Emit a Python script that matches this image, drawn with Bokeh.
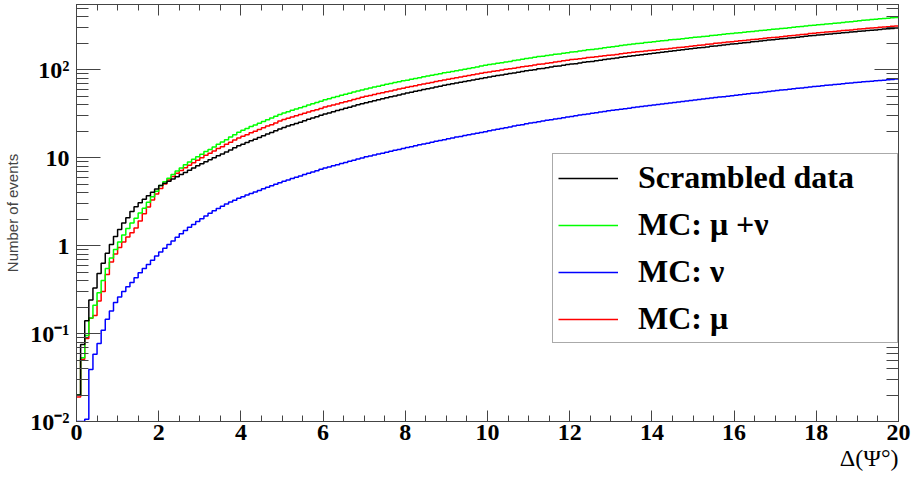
from bokeh.plotting import figure
from bokeh.models import (Range1d, FixedTicker, SingleIntervalTicker, LinearAxis, LogAxis,
                          CustomJSTickFormatter, Legend, LegendItem, Title)
from bokeh.embed import file_html
from bokeh.resources import INLINE

# ---------------- data ----------------
bin_width = 0.1
n_bins = 200
bin_edges = [round(i * bin_width, 1) for i in range(n_bins + 1)]

scrambled_data = [
    0.02, 0.075, 0.14, 0.24, 0.33, 0.48, 0.63, 0.82, 1.03, 1.27, 1.52, 1.81, 2.07, 2.44, 2.76, 3.06, 3.37, 3.68, 4.05, 4.4,
    4.82, 5.10, 5.40, 5.72, 6.06, 6.42, 6.79, 7.19, 7.62, 8.07,
    8.52, 8.97, 9.45, 9.95, 10.5, 11.0, 11.6, 12.2, 12.9, 13.6,
    14.2, 14.8, 15.5, 16.2, 16.9, 17.7, 18.5, 19.3, 20.2, 21.1,
    22.0, 22.8, 23.6, 24.4, 25.3, 26.2, 27.2, 28.1, 29.1, 30.2,
    31.3, 32.2, 33.2, 34.2, 35.3, 36.3, 37.4, 38.6, 39.8, 41.0,
    42.1, 43.2, 44.3, 45.5, 46.6, 47.8, 49.1, 50.3, 51.6, 52.9,
    54.2, 55.4, 56.7, 58.0, 59.3, 60.6, 62.0, 63.4, 64.8, 66.3,
    67.7, 69.0, 70.4, 71.8, 73.3, 74.8, 76.3, 77.8, 79.4, 81.0,
    82.5, 84.0, 85.5, 87.0, 88.6, 90.2, 91.8, 93.4, 95.1, 96.8,
    98.5, 100, 102, 103, 105, 107, 109, 110, 112, 114,
    116, 117, 119, 121, 123, 124, 126, 128, 130, 132,
    134, 136, 138, 140, 142, 144, 146, 148, 150, 152,
    154, 156, 158, 160, 162, 164, 166, 168, 170, 173,
    175, 177, 179, 181, 184, 186, 188, 191, 193, 195,
    197, 200, 202, 204, 207, 209, 212, 214, 217, 219,
    221, 224, 226, 229, 231, 234, 236, 239, 242, 244,
    247, 249, 252, 254, 257, 259, 262, 264, 267, 270,
    273, 275, 278, 281, 283, 286, 289, 291, 294, 297,
]

mc_mu_nu = [
    0.02, 0.053, 0.095, 0.15, 0.21, 0.29, 0.40, 0.55, 0.72, 0.9, 1.1, 1.32, 1.56, 1.8, 2.05, 2.35, 2.65, 3.1, 3.6, 4.15,
    4.82, 5.30, 5.83, 6.41, 7.03, 7.64, 8.28, 8.92, 9.60, 10.25,
    10.9, 11.7, 12.4, 13.2, 14.2, 15.0, 16.0, 17.1, 18.2, 19.4,
    20.4, 21.4, 22.5, 23.5, 24.6, 25.8, 27.0, 28.2, 29.5, 30.8,
    32.1, 33.3, 34.5, 35.6, 36.9, 38.2, 39.6, 40.9, 42.3, 43.8,
    45.4, 46.7, 48.1, 49.5, 51.1, 52.5, 54.0, 55.6, 57.2, 58.8,
    60.2, 61.7, 63.3, 64.9, 66.4, 68.0, 69.7, 71.3, 73.0, 74.6,
    75.9, 77.5, 79.3, 81.1, 82.8, 84.5, 86.3, 88.2, 90.0, 92.0,
    93.4, 95.2, 97.2, 99.1, 101, 103, 105, 107, 110, 112,
    114, 116, 118, 120, 122, 124, 127, 129, 131, 134,
    136, 138, 141, 142, 145, 147, 150, 151, 154, 156,
    159, 160, 163, 165, 168, 169, 172, 174, 177, 180,
    182, 185, 188, 190, 193, 195, 198, 200, 203, 205,
    208, 210, 213, 215, 218, 220, 222, 225, 227, 230,
    233, 235, 238, 240, 244, 246, 249, 252, 255, 258,
    260, 263, 266, 269, 272, 275, 278, 281, 284, 287,
    290, 293, 296, 300, 303, 307, 309, 313, 317, 320,
    324, 326, 330, 333, 337, 340, 344, 347, 351, 355,
    360, 363, 367, 371, 374, 378, 381, 384, 388, 392,
]

mc_nu = [
    0.01, 0.01, 0.0106, 0.039, 0.058, 0.077, 0.109, 0.145, 0.18, 0.225, 0.26, 0.30, 0.34, 0.38, 0.43, 0.49, 0.55, 0.61, 0.68, 0.76,
    0.843, 0.933, 1.03, 1.13, 1.24, 1.36, 1.48, 1.61, 1.74, 1.88,
    2.02, 2.17, 2.33, 2.48, 2.64, 2.80, 2.96, 3.12, 3.28, 3.44,
    3.60, 3.75, 3.90, 4.06, 4.23, 4.41, 4.59, 4.78, 4.98, 5.19,
    5.39, 5.58, 5.78, 5.98, 6.19, 6.41, 6.64, 6.87, 7.11, 7.37,
    7.61, 7.84, 8.07, 8.31, 8.56, 8.81, 9.07, 9.34, 9.62, 9.90,
    10.2, 10.4, 10.7, 11.0, 11.2, 11.5, 11.8, 12.1, 12.4, 12.7,
    13.0, 13.3, 13.6, 14.0, 14.3, 14.6, 14.9, 15.3, 15.6, 16.0,
    16.4, 16.7, 17.1, 17.4, 17.8, 18.2, 18.5, 18.9, 19.3, 19.7,
    20.2, 20.6, 21.0, 21.4, 21.9, 22.3, 22.8, 23.3, 23.7, 24.2,
    24.7, 25.1, 25.6, 26.0, 26.5, 26.9, 27.4, 27.9, 28.4, 28.9,
    29.4, 29.9, 30.4, 30.9, 31.4, 31.9, 32.4, 32.9, 33.5, 34.0,
    34.5, 35.0, 35.5, 36.0, 36.5, 37.0, 37.5, 38.1, 38.6, 39.1,
    39.7, 40.2, 40.7, 41.3, 41.8, 42.4, 42.9, 43.5, 44.1, 44.6,
    45.2, 45.7, 46.3, 46.9, 47.5, 48.1, 48.7, 49.3, 49.9, 50.5,
    51.2, 51.8, 52.5, 53.1, 53.8, 54.4, 55.1, 55.8, 56.5, 57.2,
    57.8, 58.5, 59.2, 59.9, 60.6, 61.3, 62.0, 62.8, 63.5, 64.2,
    64.9, 65.6, 66.3, 67.0, 67.7, 68.4, 69.1, 69.8, 70.5, 71.3,
    71.9, 72.6, 73.2, 73.9, 74.6, 75.3, 75.9, 76.6, 77.3, 78.0,
]

mc_mu = [
    0.019, 0.051, 0.088, 0.149, 0.16, 0.235, 0.30, 0.47, 0.65, 0.8, 0.95, 1.1, 1.25, 1.4, 1.58, 1.9, 2.3, 2.75, 3.3, 3.85,
    4.45, 5.0, 5.55, 6.1, 6.65, 7.15, 7.65, 8.2, 8.75, 9.3,
    9.97, 10.6, 11.2, 11.9, 12.7, 13.3, 14.2, 14.9, 15.9, 16.7,
    17.5, 18.2, 19.1, 19.9, 20.8, 21.8, 22.8, 23.7, 24.8, 26.0,
    27.1, 28.0, 28.9, 29.9, 30.9, 32.0, 33.0, 34.0, 35.1, 36.2,
    37.6, 38.6, 39.7, 40.8, 42.1, 43.2, 44.4, 45.8, 47.1, 48.5,
    49.7, 50.9, 52.1, 53.4, 54.6, 55.9, 57.3, 58.6, 60.1, 61.5,
    62.9, 64.2, 65.7, 67.2, 68.6, 70.0, 71.6, 73.2, 74.7, 76.4,
    77.9, 79.3, 80.9, 82.5, 84.2, 85.9, 87.5, 89.2, 91.0, 92.8,
    94.0, 95.7, 97.4, 99.1, 101, 102, 104, 106, 108, 109,
    111, 113, 115, 116, 118, 120, 122, 124, 126, 128,
    130, 131, 133, 135, 137, 138, 140, 142, 144, 146,
    147, 149, 152, 154, 156, 158, 160, 161, 163, 165,
    166, 168, 170, 172, 174, 176, 178, 180, 182, 185,
    187, 189, 191, 194, 196, 199, 201, 204, 206, 208,
    210, 213, 215, 217, 220, 222, 225, 227, 230, 232,
    234, 237, 240, 243, 245, 248, 250, 253, 257, 259,
    262, 264, 267, 269, 272, 275, 278, 280, 283, 286,
    289, 292, 295, 298, 300, 303, 306, 308, 311, 313,
]

series_labels = ["Scrambled data", "MC: \u03bc +\u03bd", "MC: \u03bd", "MC: \u03bc"]
series_colors = ["#000000", "#00ff00", "#0000ff", "#ff0000"]

y_tick_values = [0.01, 0.1, 1, 10, 100]
y_tick_labels = ["10\u207b\u00b2", "10\u207b\u00b9", "1", "10", "10\u00b2"]
y_minor_values = [m * d for d in [0.01, 0.1, 1, 10, 100] for m in range(2, 10)]
x_label = "\u0394(\u03a8\u00b0)"
y_label = "Number of events"

# ---------------- figure ----------------
p = figure(width=912, height=477, y_axis_type="log",
           x_range=Range1d(0, 20), y_range=Range1d(0.01, 550),
           output_backend="svg", toolbar_location=None,
           min_border_left=76, min_border_right=14, min_border_top=4, min_border_bottom=56)
p.xgrid.visible = False
p.ygrid.visible = False
p.outline_line_color = "#444444"
p.outline_line_width = 1
p.background_fill_color = "white"
p.border_fill_color = "white"

AX_COL = "#444444"
FONT = "Liberation Serif"
blank_fmt = CustomJSTickFormatter(code='return "";')

def style_x(ax, labels=True):
    ax.ticker = SingleIntervalTicker(interval=2, num_minor_ticks=4)
    ax.major_tick_in = 11
    ax.major_tick_out = 0
    ax.minor_tick_in = 6
    ax.minor_tick_out = 0
    ax.axis_line_color = AX_COL
    ax.major_tick_line_color = AX_COL
    ax.minor_tick_line_color = AX_COL
    if labels:
        ax.major_label_text_font = FONT
        ax.major_label_text_font_style = "bold"
        ax.major_label_text_font_size = "24px"
        ax.major_label_text_color = "black"
        ax.major_label_standoff = 3
    else:
        ax.formatter = blank_fmt
        ax.major_label_standoff = 0

def style_y(ax, labels=True):
    ax.ticker = FixedTicker(ticks=y_tick_values, minor_ticks=y_minor_values)
    ax.major_tick_in = 24
    ax.major_tick_out = 0
    ax.minor_tick_in = 12
    ax.minor_tick_out = 0
    ax.axis_line_color = AX_COL
    ax.major_tick_line_color = AX_COL
    ax.minor_tick_line_color = AX_COL
    if labels:
        ax.formatter = CustomJSTickFormatter(args=dict(vals=y_tick_values, labs=y_tick_labels), code="""
            const lt = Math.log10(tick);
            for (let i = 0; i < vals.length; i++) {
                if (Math.abs(Math.log10(vals[i]) - lt) < 1e-6) return labs[i];
            }
            return "";
        """)
        ax.major_label_text_font = FONT
        ax.major_label_text_font_style = "bold"
        ax.major_label_text_font_size = "24px"
        ax.major_label_text_color = "black"
        ax.major_label_standoff = 7
    else:
        ax.formatter = blank_fmt
        ax.major_label_standoff = 0

style_x(p.xaxis[0])
style_y(p.yaxis[0])
p.yaxis[0].axis_label = y_label
p.yaxis[0].axis_label_text_font = "Liberation Sans"
p.yaxis[0].axis_label_text_font_style = "normal"
p.yaxis[0].axis_label_text_font_size = "15px"
p.yaxis[0].axis_label_standoff = 6

top_ax = LinearAxis()
style_x(top_ax, labels=False)
p.add_layout(top_ax, "above")
right_ax = LogAxis()
style_y(right_ax, labels=False)
p.add_layout(right_ax, "right")

# x-axis title, right aligned under the axis
xt = Title(text=x_label, align="right", text_font=FONT, text_font_size="24px",
           text_font_style="normal", text_color="black", standoff=0, offset=0)
p.add_layout(xt, "below")

# ---------------- histograms ----------------
renderers = {}
for name, vals, col in [(series_labels[2], mc_nu, series_colors[2]),
                        (series_labels[3], mc_mu, series_colors[3]),
                        (series_labels[1], mc_mu_nu, series_colors[1]),
                        (series_labels[0], scrambled_data, series_colors[0])]:
    ys = list(vals) + [vals[-1]]
    renderers[name] = p.step(bin_edges, ys, mode="after", line_color=col, line_width=1.5)

legend = Legend(items=[LegendItem(label=lab, renderers=[renderers[lab]]) for lab in series_labels],
                location=(476, 78))
legend.label_text_font = FONT
legend.label_text_font_style = "bold"
legend.label_text_font_size = "32px"
legend.label_text_color = "black"
legend.glyph_width = 60
legend.glyph_height = 20
legend.label_standoff = 20
legend.padding = 5
legend.spacing = 10
legend.margin = 0
legend.label_width = 254
legend.label_height = 28
legend.border_line_color = "#555555"
legend.border_line_width = 1
legend.background_fill_color = "white"
legend.background_fill_alpha = 1
p.add_layout(legend)

open("out.html", "w").write(file_html(p, INLINE))
